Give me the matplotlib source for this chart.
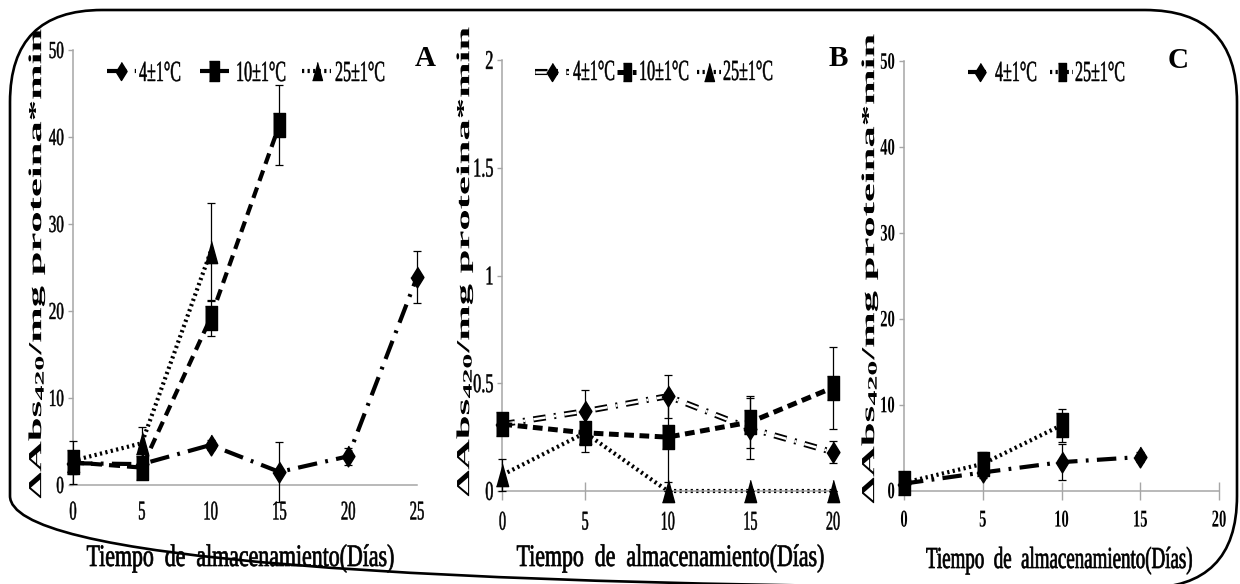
import matplotlib
matplotlib.use("Agg")
import matplotlib.pyplot as plt
from matplotlib.patheffects import AbstractPathEffect, Stroke, Normal
from matplotlib.transforms import Affine2D
from matplotlib.lines import Line2D
from matplotlib.patches import FancyBboxPatch

plt.rcParams['font.family'] = ['Liberation Serif', 'DejaVu Serif']
plt.rcParams['mathtext.default'] = 'regular'
plt.rcParams['lines.scale_dashes'] = False

# ---------------- data ----------------
# Panel A
days_a4 = [0, 5, 10, 15, 20, 25]
a_4c = [2.5, 2.4, 4.6, 1.5, 3.3, 23.9]
a_4c_err = [1.2, 0.8, 0.6, 3.5, 1.0, 3.0]
days_a10 = [0, 5, 10, 15]
a_10c = [2.6, 2.0, 19.2, 41.4]
a_10c_err = [2.5, 0.8, 2.1, 4.6]
days_a25 = [0, 5, 10]
a_25c = [2.8, 4.8, 26.8]
a_25c_err = [1.0, 1.9, 5.6]

# Panel B
days_b = [0, 5, 10, 15, 20]
b_4c = [0.31, 0.37, 0.44, 0.29, 0.18]
b_4c_err = [0.02, 0.10, 0.10, 0.14, 0.05]
b_10c = [0.31, 0.27, 0.25, 0.32, 0.48]
b_10c_err = [0.02, 0.09, 0.21, 0.12, 0.19]
b_25c = [0.075, 0.27, 0.0, 0.0, 0.0]
b_25c_err = [0.075, 0.0, 0.0, 0.0, 0.0]

# Panel C
days_c4 = [0, 5, 10, 15]
c_4c = [0.8, 2.1, 3.3, 3.9]
c_4c_err = [0.4, 0.6, 2.1, 0.6]
days_c25 = [0, 5, 10]
c_25c = [0.9, 3.1, 7.6]
c_25c_err = [0.6, 1.4, 1.9]

labels_3 = ["4±1°C", "10±1°C", "25±1°C"]
labels_2 = ["4±1°C", "25±1°C"]
xlabel = "Tiempo  de  almacenamiento(Días)"
ylabel = "ΔAbs$_{420}$/mg proteina*min"

# ---------------- helpers ----------------
W, H = 1240, 584
fig = plt.figure(figsize=(W / 100, H / 100), dpi=100)
# pixel coordinates measured from the top-left corner
PIX = Affine2D().scale(1 / W, -1 / H).translate(0, 1) + fig.transFigure


class Squeeze(AbstractPathEffect):
    """Draw text glyphs scaled by (sx, sy) about a chosen anchor of the glyphs,
    optionally thickened with an outline of `weight` points."""

    def __init__(self, sx=1.0, sy=1.0, anchor='center', vanchor='center', weight=0.0):
        super().__init__()
        self.sx, self.sy = sx, sy
        self.anchor, self.vanchor = anchor, vanchor
        self.weight = weight

    def draw_path(self, renderer, gc, tpath, affine, rgbFace=None):
        ext = tpath.get_extents()
        cx = {'left': ext.x0, 'right': ext.x1}.get(self.anchor, 0.5 * (ext.x0 + ext.x1))
        cy = {'base': 0.0, 'top': ext.y1}.get(self.vanchor, 0.5 * (ext.y0 + ext.y1))
        aff = (Affine2D().translate(-cx, -cy).scale(self.sx, self.sy)
               .translate(cx, cy) + affine)
        gc0 = renderer.new_gc()
        gc0.copy_properties(gc)
        if self.weight > 0 and rgbFace is not None:
            gc0.set_linewidth(self.weight)
            gc0.set_foreground(rgbFace)
            gc0.set_joinstyle('round')
        renderer.draw_path(gc0, tpath, aff, rgbFace)
        gc0.restore()


def squeezed(target_pt, narrow, nominal_pt, anchor='center', vanchor='center',
             weight=0.0):
    """Text set at nominal_pt but drawn at target_pt height, narrowed by `narrow`."""
    k = target_pt / nominal_pt
    return nominal_pt, [Squeeze(narrow * k, k, anchor, vanchor, weight)]


def px_axes(x0, x1, ytop, ybot):
    return fig.add_axes([x0 / W, (H - ybot) / H, (x1 - x0) / W, (ybot - ytop) / H])


GRAY = '#A6A6A6'
DIAMOND = [(0, 1), (0.62, 0), (0, -1), (-0.62, 0)]
SQUARE = [(-0.48, -1), (0.48, -1), (0.48, 1), (-0.48, 1)]
TRIANGLE = [(0, 1), (0.55, -1), (-0.55, -1)]

STY_DASHDOT = dict(color='k', lw=3.0, ls=(0, (14, 6, 2, 6)), dash_capstyle='butt')
STY_DASH = dict(color='k', lw=3.0, ls=(0, (8, 5)), dash_capstyle='butt')
STY_DOT = dict(color='k', lw=3.0, ls=(0, (1.6, 2.4)), dash_capstyle='butt')
STY_DASH_B = dict(color='k', lw=3.6, ls=(0, (7, 4)), dash_capstyle='butt')
STY_HOLLOW = dict(color='white', lw=1.8, ls=(0, (9, 6, 1.5, 6)), dash_capstyle='butt',
                  path_effects=[Stroke(linewidth=4.4, foreground='k'), Normal()])


def series(ax, x, y, err, style, marker, msize):
    ax.plot(x, y, clip_on=False, zorder=2, **style)
    ax.errorbar(x, y, yerr=err, fmt='none', ecolor='k', elinewidth=0.9,
                capsize=3.2, capthick=0.9, clip_on=False, zorder=3)
    ax.plot(x, y, ls='none', marker=marker, ms=msize, color='k', mec='k',
            clip_on=False, zorder=4)


def style_axes(ax, xlim, ylim, xticks, yticks, ytl, ysize, xsize, sx_y, sx_x,
               bold, xtick_len, xpad):
    ax.set_xlim(*xlim)
    ax.set_ylim(*ylim)
    for s in ('top', 'right'):
        ax.spines[s].set_visible(False)
    for s in ('left', 'bottom'):
        ax.spines[s].set_color(GRAY)
        ax.spines[s].set_linewidth(1.1)
    ax.set_xticks(xticks)
    ax.set_yticks(yticks)
    ax.set_yticklabels(ytl)
    ax.set_xticklabels([str(v) for v in xticks])
    w = 'bold' if bold else 'normal'
    thick = 0.0 if bold else 0.35
    ny, pe_y = squeezed(ysize, sx_y, 11, 'right', 'center', thick)
    nx, pe_x = squeezed(xsize, sx_x, 11, 'center', 'top', thick)
    ax.tick_params(axis='y', direction='out', length=3.6, width=1.0, color=GRAY,
                   pad=3.0, labelsize=ny)
    if xtick_len > 0:
        ax.tick_params(axis='x', direction='inout', length=xtick_len, width=1.0,
                       color=GRAY, pad=xpad, labelsize=nx)
    else:
        ax.tick_params(axis='x', length=0, pad=xpad, labelsize=nx)
    for t in ax.get_yticklabels():
        t.set_fontweight(w)
        t.set_path_effects(pe_y)
    for t in ax.get_xticklabels():
        t.set_fontweight(w)
        t.set_path_effects(pe_x)
    ax.patch.set_alpha(0)


def legend_entry(x0, x1, xm, y, style, marker, msize, text, xt, yt):
    fig.add_artist(Line2D([x0, x1], [y, y], transform=PIX, **style))
    fig.add_artist(Line2D([xm], [y], transform=PIX, ls='none', marker=marker,
                          ms=msize, color='k'))
    fs, pe = squeezed(21, 0.55, 12, 'left', 'base', 0.35)
    fig.text(xt / W, 1 - yt / H, text, ha='left', va='baseline', fontsize=fs,
             path_effects=pe)


def ylab(xc, yc):
    # rotated text: local x runs along the label, local y across it
    nominal = 11
    k = 24 / nominal
    fig.text(xc / W, 1 - yc / H, ylabel, rotation=90, ha='center', va='center',
             fontsize=nominal, fontweight='bold',
             path_effects=[Squeeze(1.28 * k, 0.55 * k)])


def xlab(xc, yb, size, narrow, nominal):
    fs, pe = squeezed(size, narrow, nominal, 'center', 'base', 0.5)
    fig.text(xc / W, 1 - yb / H, xlabel, ha='center', va='baseline', fontsize=fs,
             path_effects=pe)


# ---------------- panel A ----------------
axA = px_axes(73, 417, 50, 485)
series(axA, days_a4, a_4c, a_4c_err, STY_DASHDOT, DIAMOND, 15)
series(axA, days_a10, a_10c, a_10c_err, STY_DASH, SQUARE, 17)
series(axA, days_a25, a_25c, a_25c_err, STY_DOT, TRIANGLE, 16)
style_axes(axA, (0, 25), (0, 50), [0, 5, 10, 15, 20, 25], [0, 10, 20, 30, 40, 50],
           ['0', '10', '20', '30', '40', '50'], 17.5, 19.5, 0.62, 0.54,
           False, 0, 12)

# ---------------- panel B ----------------
axB = px_axes(502.5, 833, 60, 491)
series(axB, days_b, b_4c, b_4c_err, STY_HOLLOW, DIAMOND, 15)
series(axB, days_b, b_10c, b_10c_err, STY_DASH_B, SQUARE, 17)
series(axB, days_b, b_25c, b_25c_err, STY_DOT, TRIANGLE, 16)
style_axes(axB, (0, 20), (0, 2), [0, 5, 10, 15, 20], [0, 0.5, 1, 1.5, 2],
           ['0', '0.5', '1', '1.5', '2'], 19.5, 19.5, 0.6, 0.52, False, 13, 8.5)

# ---------------- panel C ----------------
axC = px_axes(904, 1219, 61, 490.5)
series(axC, days_c4, c_4c, c_4c_err, STY_DASHDOT, DIAMOND, 15)
series(axC, days_c25, c_25c, c_25c_err, STY_DOT, SQUARE, 17)
style_axes(axC, (0, 20), (0, 50), [0, 5, 10, 15, 20], [0, 10, 20, 30, 40, 50],
           ['0', '10', '20', '30', '40', '50'], 17, 17.5, 0.62, 0.6, True, 13, 8)

# ---------------- axis titles ----------------
ylab(37, 263)
ylab(465, 261)
ylab(870, 268)
xlab(241, 566, 22.5, 0.7, 15)
xlab(671, 566, 22.5, 0.7, 15)
xlab(1060, 568, 22, 0.62, 14)

# ---------------- legends ----------------
legend_entry(107, 136, 121, 71, STY_DASHDOT, DIAMOND, 13, labels_3[0], 139, 81)
legend_entry(200, 229, 214, 71, STY_DASH, SQUARE, 14, labels_3[1], 236, 81)
legend_entry(302, 331, 317, 71, STY_DOT, TRIANGLE, 13, labels_3[2], 335, 81)

legend_entry(535, 569, 552, 72, STY_HOLLOW, DIAMOND, 13, labels_3[0], 573, 80)
legend_entry(617, 636, 627, 72, STY_DASH_B, SQUARE, 13, labels_3[1], 639, 80)
legend_entry(697, 721, 709, 72, STY_DOT, TRIANGLE, 13, labels_3[2], 723, 80)

legend_entry(968, 986, 980, 72, STY_DASHDOT, DIAMOND, 13, labels_2[0], 995, 81)
legend_entry(1050, 1073, 1062, 72, STY_DOT, SQUARE, 13, labels_2[1], 1075, 81)

# ---------------- panel letters ----------------
for letter, x, y in (("A", 425, 58), ("B", 838, 59), ("C", 1178, 60)):
    fig.text(x / W, 1 - y / H, letter, ha='center', va='center', fontsize=21,
             fontweight='bold')

# ---------------- rounded frame ----------------
frame = FancyBboxPatch((10, 10), 1227, 578, boxstyle="round,pad=0,rounding_size=92",
                       transform=PIX, fill=False, ec='k', lw=1.9, clip_on=False)
fig.add_artist(frame)

fig.savefig("out.png", dpi=100)
